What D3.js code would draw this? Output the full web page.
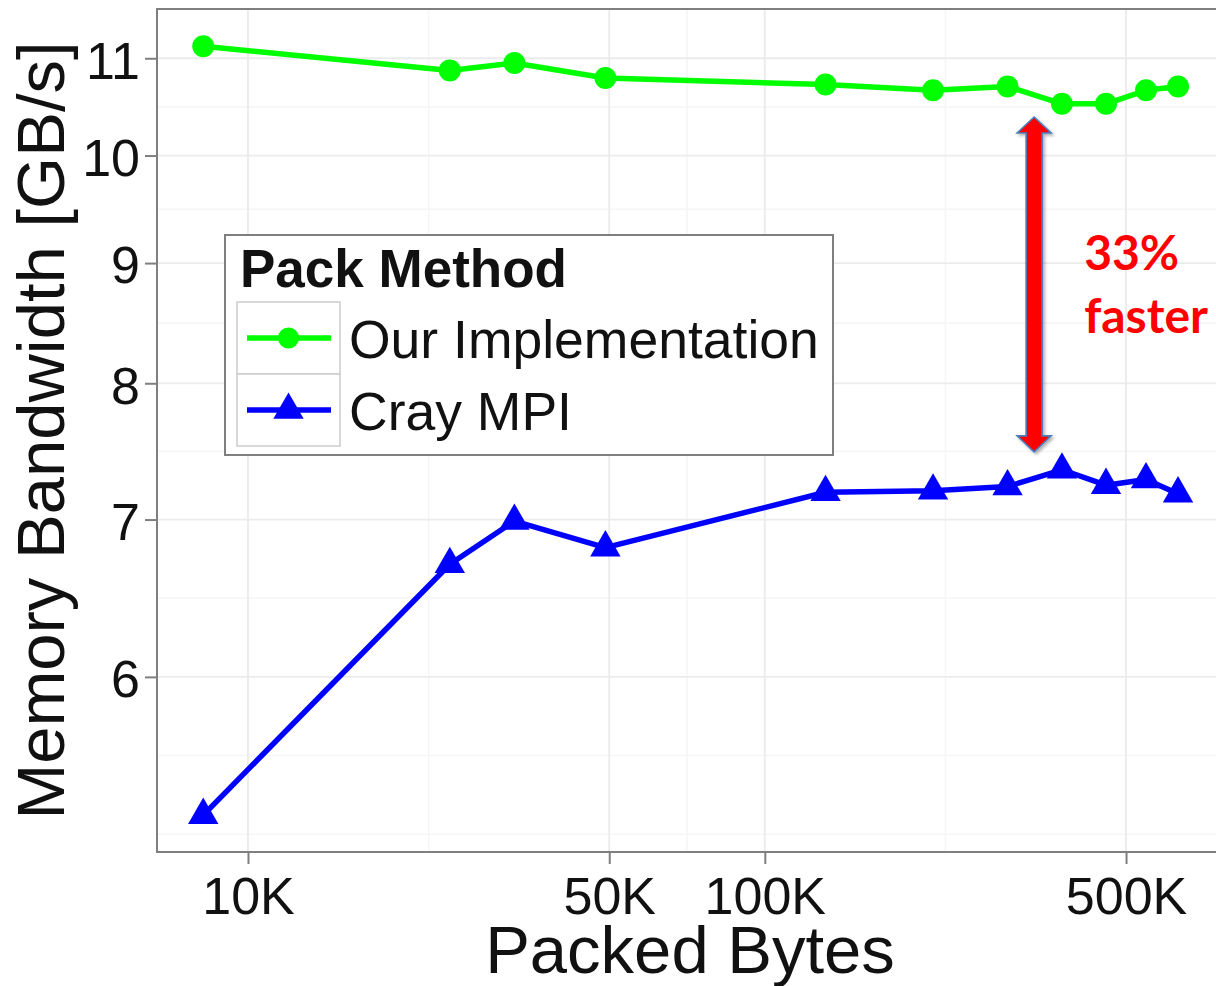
<!DOCTYPE html>
<html><head><meta charset="utf-8">
<script src="https://cdn.jsdelivr.net/npm/d3@7"></script>
<style>html,body{margin:0;padding:0;background:#fff;} svg{display:block}</style>
</head><body>
<svg id="chart" width="1216" height="986"></svg>
<script>
// ---- data ----
const packedBytes = [8192, 24576, 32768, 49152, 131072, 211600, 294912, 375800, 457300, 546500, 630300];
const ourImplementation = [11.13, 10.87, 10.95, 10.79, 10.72, 10.66, 10.70, 10.52, 10.52, 10.66, 10.70];
const crayMPI = [5.24, 6.70, 6.99, 6.81, 7.19, 7.20, 7.23, 7.35, 7.24, 7.28, 7.18];
const seriesNames = ["Our Implementation", "Cray MPI"];
const seriesColors = ["#00ff00", "#0000ff"];
const xTickValues = [10000, 50000, 100000, 500000];
const xTickLabels = ["10K", "50K", "100K", "500K"];
const yTickValues = [6, 7, 8, 9, 10, 11];
const yTickLabels = ["6", "7", "8", "9", "10", "11"];
const xTitle = "Packed Bytes";
const yTitle = "Memory Bandwidth [GB/s]";
const legendTitle = "Pack Method";
const annotationLines = ["33%", "faster"];
const annotationX = 332000;
const annotationSpan = [7.48, 10.385];

// ---- layout ----
const P = {left: 157, right: 1227, top: 9, bottom: 852};
const svg = d3.select("#chart");
const FONT = "'Liberation Sans', Arial, Helvetica, sans-serif";

const x = d3.scaleLog().domain([6667, 784000]).range([P.left, P.right]);
const y = d3.scaleLog().domain([5.054, 11.544]).range([P.bottom, P.top]);

// ggplot-like minor breaks in transformed space
function minorBreaks(majors, scale, tf, itf) {
  let b = majors.map(tf);
  const lim = scale.domain().map(tf);
  const bd = b[1] - b[0];
  if (lim[0] < b[0]) b = [b[0] - bd, ...b];
  if (lim[1] > b[b.length - 1]) b = [...b, b[b.length - 1] + bd];
  const out = [];
  for (let i = 0; i < b.length - 1; i++) { out.push(b[i]); out.push((b[i] + b[i + 1]) / 2); }
  out.push(b[b.length - 1]);
  const majT = majors.map(tf);
  return out.filter(v => v > lim[0] && v < lim[1] && !majT.some(m => Math.abs(m - v) < 1e-9)).map(itf);
}
const xMinor = minorBreaks(xTickValues, x, Math.log10, v => Math.pow(10, v));
const yMinor = minorBreaks(yTickValues, y, Math.log, Math.exp);

// panel background
svg.append("rect").attr("x", P.left).attr("y", P.top)
  .attr("width", P.right - P.left).attr("height", P.bottom - P.top).attr("fill", "#fff");

const grid = svg.append("g");
grid.selectAll(".xminor").data(xMinor).join("line")
  .attr("x1", d => x(d)).attr("x2", d => x(d)).attr("y1", P.top).attr("y2", P.bottom)
  .attr("stroke", "#f6f6f6").attr("stroke-width", 1.6);
grid.selectAll(".yminor").data(yMinor).join("line")
  .attr("y1", d => y(d)).attr("y2", d => y(d)).attr("x1", P.left).attr("x2", P.right)
  .attr("stroke", "#f6f6f6").attr("stroke-width", 1.6);
grid.selectAll(".xmajor").data(xTickValues).join("line")
  .attr("x1", d => x(d)).attr("x2", d => x(d)).attr("y1", P.top).attr("y2", P.bottom)
  .attr("stroke", "#ebebeb").attr("stroke-width", 1.8);
grid.selectAll(".ymajor").data(yTickValues).join("line")
  .attr("y1", d => y(d)).attr("y2", d => y(d)).attr("x1", P.left).attr("x2", P.right)
  .attr("stroke", "#ebebeb").attr("stroke-width", 1.8);

// axes
const xAxis = d3.axisBottom(x).tickValues(xTickValues)
  .tickFormat((d, i) => xTickLabels[i]).tickSize(12).tickPadding(13);
const gx = svg.append("g").attr("transform", `translate(0,${P.bottom})`).call(xAxis);
gx.select(".domain").remove();
gx.selectAll(".tick line").attr("stroke", "#7f7f7f").attr("stroke-width", 2);
gx.selectAll(".tick text").attr("font-family", FONT).attr("font-size", 52).attr("fill", "#111").attr("dy", "0.72em");

const yAxis = d3.axisLeft(y).tickValues(yTickValues)
  .tickFormat((d, i) => yTickLabels[i]).tickSize(12).tickPadding(5);
const gy = svg.append("g").attr("transform", `translate(${P.left},0)`).call(yAxis);
gy.select(".domain").remove();
gy.selectAll(".tick line").attr("stroke", "#7f7f7f").attr("stroke-width", 2);
gy.selectAll(".tick text").attr("font-family", FONT).attr("font-size", 52).attr("fill", "#111").attr("dy", "0.38em");

// series
const series = [ourImplementation, crayMPI].map((vals, i) => ({
  name: seriesNames[i], color: seriesColors[i],
  points: vals.map((v, j) => ({bx: packedBytes[j], v}))
}));
svg.append("clipPath").attr("id", "clip").append("rect")
  .attr("x", P.left).attr("y", P.top).attr("width", P.right - P.left).attr("height", P.bottom - P.top);
const plot = svg.append("g").attr("clip-path", "url(#clip)");
const line = d3.line().x(d => x(d.bx)).y(d => y(d.v));
plot.selectAll(".series").data(series).join("path")
  .attr("d", d => line(d.points)).attr("fill", "none")
  .attr("stroke", d => d.color).attr("stroke-width", 5.5).attr("stroke-linejoin", "round");

const tri = d3.symbol(d3.symbolTriangle, 400)();
plot.selectAll(".gpt").data(series[0].points).join("circle")
  .attr("cx", d => x(d.bx)).attr("cy", d => y(d.v)).attr("r", 11).attr("fill", seriesColors[0]);
plot.selectAll(".bpt").data(series[1].points).join("path")
  .attr("d", tri).attr("transform", d => `translate(${x(d.bx)},${y(d.v)})`).attr("fill", seriesColors[1]);

// panel border
svg.append("rect").attr("x", P.left).attr("y", P.top)
  .attr("width", P.right - P.left).attr("height", P.bottom - P.top)
  .attr("fill", "none").attr("stroke", "#7f7f7f").attr("stroke-width", 2);

// axis titles
svg.append("text").attr("x", (P.left + P.right) / 2 - 2).attr("y", 973)
  .attr("text-anchor", "middle").attr("font-family", FONT).attr("font-size", 67).attr("fill", "#111").text(xTitle);
svg.append("text").attr("transform", `translate(64,${(P.top + P.bottom) / 2}) rotate(-90)`)
  .attr("text-anchor", "middle").attr("font-family", FONT).attr("font-size", 67).attr("fill", "#111").text(yTitle);

// legend
const L = {x: 225, y: 235, w: 608, h: 220};
const lg = svg.append("g");
lg.append("rect").attr("x", L.x).attr("y", L.y).attr("width", L.w).attr("height", L.h)
  .attr("fill", "#fff").attr("stroke", "#7f7f7f").attr("stroke-width", 2);
lg.append("text").attr("x", 240).attr("y", 287).attr("font-family", FONT).attr("font-weight", "bold")
  .attr("font-size", 53).attr("fill", "#111").text(legendTitle);
const keyX = 237, keyW = 103, keyH = 72, keyY0 = 302;
series.forEach((s, i) => {
  const ky = keyY0 + i * keyH, cy = ky + keyH / 2, cx = keyX + keyW / 2;
  lg.append("rect").attr("x", keyX).attr("y", ky).attr("width", keyW).attr("height", keyH)
    .attr("fill", "#fff").attr("stroke", "#cccccc").attr("stroke-width", 1.5);
  lg.append("line").attr("x1", keyX + 10).attr("x2", keyX + keyW - 9).attr("y1", cy).attr("y2", cy)
    .attr("stroke", s.color).attr("stroke-width", 5.5);
  if (i === 0) lg.append("circle").attr("cx", cx).attr("cy", cy).attr("r", 10.5).attr("fill", s.color);
  else lg.append("path").attr("d", tri).attr("transform", `translate(${cx},${cy})`).attr("fill", s.color);
  lg.append("text").attr("x", 349).attr("y", cy + 20).attr("font-family", FONT)
    .attr("font-size", 53.5).attr("fill", "#111").text(s.name);
});

// annotation arrow
const defs = svg.append("defs");
const f = defs.append("filter").attr("id", "shadow").attr("x", "-50%").attr("y", "-10%").attr("width", "200%").attr("height", "120%");
f.append("feDropShadow").attr("dx", 2).attr("dy", 2).attr("stdDeviation", 1.5).attr("flood-color", "#000").attr("flood-opacity", 0.3);
const ax = x(annotationX), yT = y(annotationSpan[1]), yB = y(annotationSpan[0]);
const hh = 16, hw = 17, sw = 8;
const arrowPts = [[ax, yT], [ax + hw, yT + hh], [ax + sw, yT + hh], [ax + sw, yB - hh], [ax + hw, yB - hh],
  [ax, yB], [ax - hw, yB - hh], [ax - sw, yB - hh], [ax - sw, yT + hh], [ax - hw, yT + hh]];
svg.append("path").attr("d", d3.line()(arrowPts) + "Z").attr("fill", "#ff0000")
  .attr("stroke", "#4a7ebb").attr("stroke-width", 1.6).attr("stroke-linejoin", "miter").attr("filter", "url(#shadow)");
svg.selectAll(".ann").data(annotationLines).join("text")
  .attr("x", ax + 50).attr("y", (d, i) => 270 + i * 63)
  .attr("font-family", "Lato, 'Open Sans', sans-serif").attr("font-weight", "bold")
  .attr("font-size", 48).attr("fill", "#ff0000").text(d => d);
</script>
</body></html>
